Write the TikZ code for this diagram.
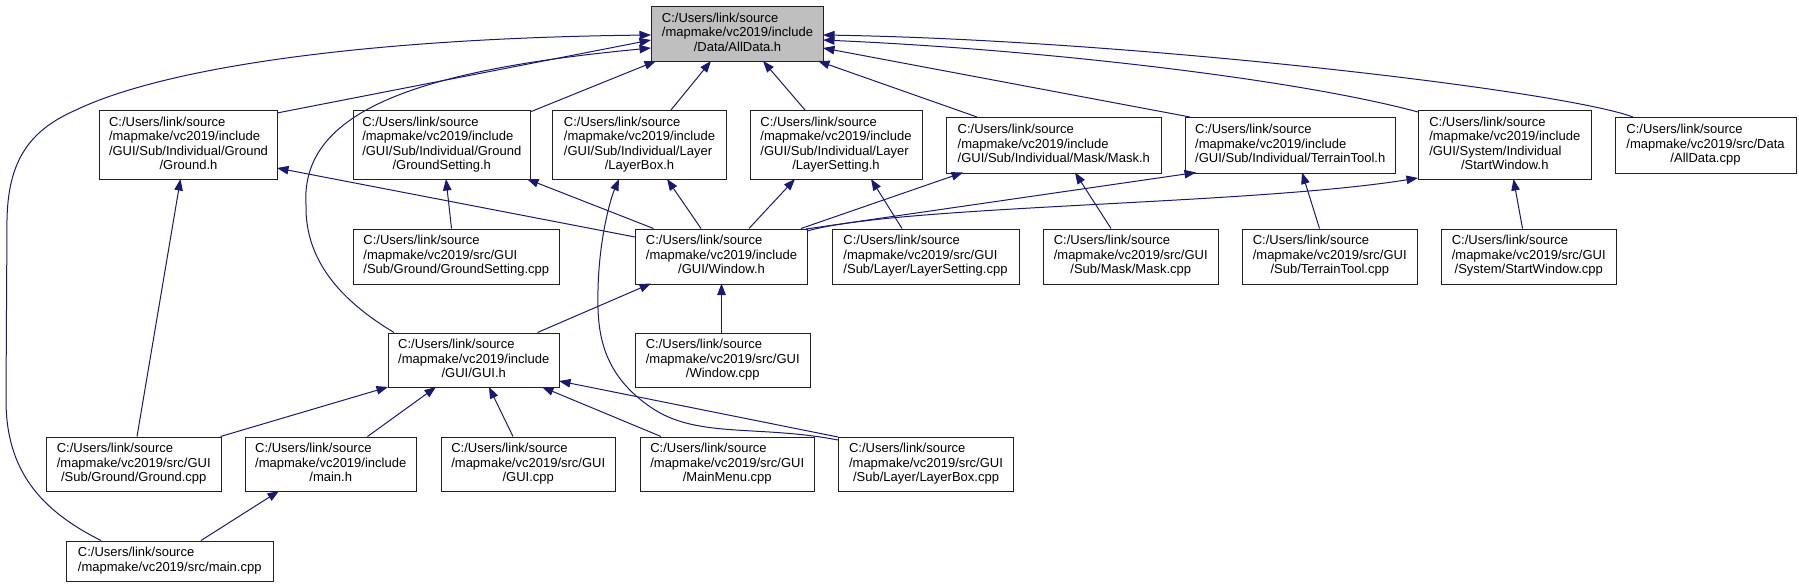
\documentclass[tikz,border=0pt]{standalone}
\usepackage{fontspec}
\setmainfont{Liberation Sans}
\usetikzlibrary{arrows.meta,calc}
\definecolor{edgecol}{HTML}{191970}
\definecolor{boxline}{HTML}{202020}
\definecolor{mainfill}{HTML}{BFBFBF}
\newcommand{\lbl}[2]{\begin{tabular}{@{}l@{}}#1\\\multicolumn{1}{@{}c@{}}{#2}\end{tabular}}
\begin{document}
\begin{tikzpicture}[x=1pt,y=-1pt,
  font=\fontsize{13}{14.4}\selectfont,
  box/.style={draw=boxline, line width=1pt, fill=white, anchor=north west, inner sep=0pt},
  edge/.style={draw=edgecol, line width=1pt, {Triangle[length=11.5pt,width=8.5pt]}-}]
\useasboundingbox (0,0) rectangle (1799,587);
% row 1
\node[box, fill=mainfill, minimum width=172pt, minimum height=55pt] (alldata) at (651,6) {\lbl{C:/Users/link/source\\/mapmake/vc2019/include}{/Data/AllData.h}};
% row 2
\node[box, minimum width=178pt, minimum height=69pt] (groundh) at (99,110) {\lbl{C:/Users/link/source\\/mapmake/vc2019/include\\/GUI/Sub/Individual/Ground}{/Ground.h}};
\node[box, minimum width=177.5pt, minimum height=69pt] (gsh) at (352.5,110) {\lbl{C:/Users/link/source\\/mapmake/vc2019/include\\/GUI/Sub/Individual/Ground}{/GroundSetting.h}};
\node[box, minimum width=174pt, minimum height=69pt] (lbh) at (552,110) {\lbl{C:/Users/link/source\\/mapmake/vc2019/include\\/GUI/Sub/Individual/Layer}{/LayerBox.h}};
\node[box, minimum width=172pt, minimum height=69pt] (lsh) at (749.5,110) {\lbl{C:/Users/link/source\\/mapmake/vc2019/include\\/GUI/Sub/Individual/Layer}{/LayerSetting.h}};
\node[box, minimum width=215.5pt, minimum height=55.5pt] (maskh) at (945.5,117) {\lbl{C:/Users/link/source\\/mapmake/vc2019/include}{/GUI/Sub/Individual/Mask/Mask.h}};
\node[box, minimum width=209.5pt, minimum height=55.5pt] (tth) at (1185,117) {\lbl{C:/Users/link/source\\/mapmake/vc2019/include}{/GUI/Sub/Individual/TerrainTool.h}};
\node[box, minimum width=172.5pt, minimum height=69pt] (swh) at (1418,110) {\lbl{C:/Users/link/source\\/mapmake/vc2019/include\\/GUI/System/Individual}{/StartWindow.h}};
\node[box, minimum width=181pt, minimum height=55.5pt] (adcpp) at (1614.5,117) {\lbl{C:/Users/link/source\\/mapmake/vc2019/src/Data}{/AllData.cpp}};
% row 3
\node[box, minimum width=206.5pt, minimum height=55pt] (gscpp) at (352.5,228.5) {\lbl{C:/Users/link/source\\/mapmake/vc2019/src/GUI}{/Sub/Ground/GroundSetting.cpp}};
\node[box, minimum width=172pt, minimum height=55pt] (winh) at (635,228.5) {\lbl{C:/Users/link/source\\/mapmake/vc2019/include}{/GUI/Window.h}};
\node[box, minimum width=187pt, minimum height=55pt] (lscpp) at (831.5,228.5) {\lbl{C:/Users/link/source\\/mapmake/vc2019/src/GUI}{/Sub/Layer/LayerSetting.cpp}};
\node[box, minimum width=174.5pt, minimum height=55pt] (maskcpp) at (1043,228.5) {\lbl{C:/Users/link/source\\/mapmake/vc2019/src/GUI}{/Sub/Mask/Mask.cpp}};
\node[box, minimum width=175.5pt, minimum height=55pt] (ttcpp) at (1241.5,228.5) {\lbl{C:/Users/link/source\\/mapmake/vc2019/src/GUI}{/Sub/TerrainTool.cpp}};
\node[box, minimum width=175.5pt, minimum height=55pt] (swcpp) at (1440.5,228.5) {\lbl{C:/Users/link/source\\/mapmake/vc2019/src/GUI}{/System/StartWindow.cpp}};
% row 4
\node[box, minimum width=171.5pt, minimum height=54.5pt] (guih) at (387.5,332.5) {\lbl{C:/Users/link/source\\/mapmake/vc2019/include}{/GUI/GUI.h}};
\node[box, minimum width=174.5pt, minimum height=54.5pt] (wincpp) at (635,332.5) {\lbl{C:/Users/link/source\\/mapmake/vc2019/src/GUI}{/Window.cpp}};
% row 5
\node[box, minimum width=174.5pt, minimum height=54.5pt] (groundcpp) at (46,436.5) {\lbl{C:/Users/link/source\\/mapmake/vc2019/src/GUI}{/Sub/Ground/Ground.cpp}};
\node[box, minimum width=171.5pt, minimum height=54.5pt] (mainh) at (244.5,436.5) {\lbl{C:/Users/link/source\\/mapmake/vc2019/include}{/main.h}};
\node[box, minimum width=174.5pt, minimum height=54.5pt] (guicpp) at (440.5,436.5) {\lbl{C:/Users/link/source\\/mapmake/vc2019/src/GUI}{/GUI.cpp}};
\node[box, minimum width=174.5pt, minimum height=54.5pt] (mmcpp) at (639.5,436.5) {\lbl{C:/Users/link/source\\/mapmake/vc2019/src/GUI}{/MainMenu.cpp}};
\node[box, minimum width=175pt, minimum height=54.5pt] (lbcpp) at (838,436.5) {\lbl{C:/Users/link/source\\/mapmake/vc2019/src/GUI}{/Sub/Layer/LayerBox.cpp}};
% row 6
\node[box, minimum width=206.5pt, minimum height=40pt] (maincpp) at (66,540.5) {\lbl{C:/Users/link/source}{/mapmake/vc2019/src/main.cpp}};

% edges into AllData.h
\draw[edge] ($(alldata.north west)+(0,34)$) -- ($(groundh.north west)+(178,3)$);
\draw[edge] ($(alldata.north west)+(5,55)$) -- ($(gsh.north west)+(177.5,2)$);
\draw[edge] ($(alldata.north west)+(60,55)$) -- ($(lbh.north west)+(119,0)$);
\draw[edge] ($(alldata.north west)+(112,55)$) -- ($(lsh.north west)+(55.5,0)$);
\draw[edge] ($(alldata.north west)+(167,55)$) -- ($(maskh.north west)+(31.5,0)$);
\draw[edge] ($(alldata.north west)+(172,42)$) -- ($(tth.north west)+(5,0)$);
\draw[edge] ($(alldata.north west)+(172,34)$) .. controls (1050,50) and (1300,80) .. ($(swh.north west)+(0,2)$);
\draw[edge] ($(alldata.north west)+(172,29)$) .. controls (1130,40) and (1560,90) .. ($(adcpp.north west)+(18.5,0)$);
\draw[edge] ($(alldata.north west)+(0,42)$) .. controls (420,70) and (300,110) .. (306,205)
  .. controls (305,260) and (340,300) .. ($(guih.north west)+(6.5,0)$);
\draw[edge] ($(alldata.north west)+(0,29)$) .. controls (380,38) and (170,65) .. (76,110)
  .. controls (30,130) and (8,160) .. (7,220) -- (6,400)
  .. controls (6,470) and (40,510) .. ($(maincpp.north west)+(35,0)$);
% edges into Window.h and others
\draw[edge] ($(groundh.north west)+(178,58)$) -- ($(winh.north west)+(0,8.5)$);
\draw[edge] ($(gsh.north west)+(174.5,69)$) -- ($(winh.north west)+(18.5,0)$);
\draw[edge] ($(lbh.north west)+(115,69)$) -- ($(winh.north west)+(66,0)$);
\draw[edge] ($(lsh.north west)+(45.5,69)$) -- ($(winh.north west)+(114,0)$);
\draw[edge] ($(maskh.north west)+(17.5,55.5)$) -- ($(winh.north west)+(166,0)$);
\draw[edge] ($(tth.north west)+(11,55.5)$) -- ($(winh.north west)+(171,0.5)$);
\draw[edge] ($(swh.north west)+(0,68)$) .. controls (1250,205) and (900,205) .. ($(winh.north west)+(172,2.5)$);
\draw[edge] ($(winh.north west)+(16,55)$) -- ($(guih.north west)+(150,0)$);
\draw[edge] ($(winh.north west)+(86.5,55)$) -- ($(wincpp.north west)+(86.5,0)$);
\draw[edge] ($(gsh.north west)+(93.5,69)$) -- ($(gscpp.north west)+(99,0)$);
\draw[edge] ($(groundh.north west)+(81.5,69)$) -- ($(groundcpp.north west)+(91,0)$);
\draw[edge] ($(lbh.north west)+(67,69)$) .. controls (610,200) and (599,240) .. (598,290)
  .. controls (597,330) and (600,375) .. (655,410)
  .. controls (700,438) and (760,425) .. ($(lbcpp.north west)+(0,3.5)$);
\draw[edge] ($(lsh.north west)+(121.5,69)$) -- ($(lscpp.north west)+(70.5,0)$);
\draw[edge] ($(maskh.north west)+(129.5,55.5)$) -- ($(maskcpp.north west)+(68,0)$);
\draw[edge] ($(tth.north west)+(117,55.5)$) -- ($(ttcpp.north west)+(78,0)$);
\draw[edge] ($(swh.north west)+(95.5,69)$) -- ($(swcpp.north west)+(82,0)$);
% edges into GUI.h
\draw[edge] ($(guih.north west)+(0.5,54.5)$) -- ($(groundcpp.north west)+(174.5,0)$);
\draw[edge] ($(guih.north west)+(48.5,54.5)$) -- ($(mainh.north west)+(123,0)$);
\draw[edge] ($(guih.north west)+(101.5,54.5)$) -- ($(guicpp.north west)+(72.5,0)$);
\draw[edge] ($(guih.north west)+(154.5,54.5)$) -- ($(mmcpp.north west)+(21.5,0)$);
\draw[edge] ($(guih.north west)+(171.5,48.5)$) -- ($(lbcpp.north west)+(0,0.5)$);
\draw[edge] ($(mainh.north west)+(34.5,54.5)$) -- ($(maincpp.north west)+(135,0)$);
\end{tikzpicture}
\end{document}
